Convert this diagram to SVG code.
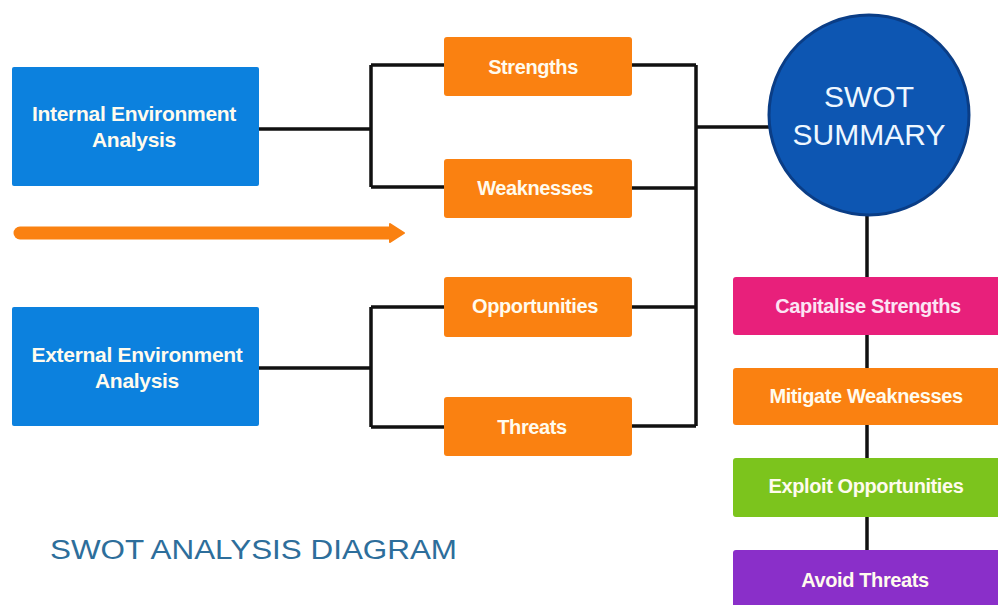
<svg xmlns="http://www.w3.org/2000/svg" width="998" height="605" viewBox="0 0 998 605">
<style>
.bx{stroke:none}
.blue{fill:#0c81de}
.org{fill:#fa8111}
.lbl{font-family:"Liberation Sans",Arial,sans-serif;font-weight:bold;fill:#fffbee;text-anchor:middle}
.big{font-size:21px;letter-spacing:-0.3px}
.mid{font-size:20px;letter-spacing:-0.4px}
.con{fill:none;stroke:#111;stroke-width:3.5}
</style>
<rect width="998" height="605" fill="#ffffff"/>
<g id="connectors">
<path class="con" d="M259 129H371M371 65V187M371 65H444M371 187H444"/>
<path class="con" d="M259 368H371M371 307V427M371 307H444M371 427H444"/>
<path class="con" d="M632 65H696M632 188H696M632 307H696M632 426H696M696 65V426M696 127H772"/>
<path class="con" d="M867 215V555"/>
</g>
<g id="arrow">
<path d="M20 233H392" stroke="#fa8111" stroke-width="13" stroke-linecap="round" fill="none"/>
<path d="M390 224L404 233L390 242Z" fill="#fa8111" stroke="#fa8111" stroke-width="2" stroke-linejoin="round"/>
</g>
<g id="internal">
<rect class="bx blue" x="12" y="67" width="247" height="119" rx="2"/>
<text class="lbl big" x="134" y="121">Internal Environment</text>
<text class="lbl big" x="134" y="147">Analysis</text>
</g>
<g id="external">
<rect class="bx blue" x="12" y="307" width="247" height="119" rx="2"/>
<text class="lbl big" x="137" y="362">External Environment</text>
<text class="lbl big" x="137" y="388">Analysis</text>
</g>
<g id="strengths">
<rect class="bx org" x="444" y="37" width="188" height="59" rx="3"/>
<text class="lbl mid" x="533" y="74">Strengths</text>
</g>
<g id="weaknesses">
<rect class="bx org" x="444" y="159" width="188" height="59" rx="3"/>
<text class="lbl mid" x="535" y="195">Weaknesses</text>
</g>
<g id="opportunities">
<rect class="bx org" x="444" y="277" width="188" height="60" rx="3"/>
<text class="lbl mid" x="535" y="313">Opportunities</text>
</g>
<g id="threats">
<rect class="bx org" x="444" y="397" width="188" height="59" rx="3"/>
<text class="lbl mid" x="532" y="434">Threats</text>
</g>
<g id="summary">
<circle cx="869" cy="115" r="100" fill="#0d56b2" stroke="#0a3d86" stroke-width="3"/>
<text x="869" y="107" font-family="Liberation Sans,Arial,sans-serif" font-size="30" fill="#eef7ff" text-anchor="middle">SWOT</text>
<text x="869" y="145" font-family="Liberation Sans,Arial,sans-serif" font-size="30" fill="#eef7ff" text-anchor="middle">SUMMARY</text>
</g>
<g id="capitalise">
<rect class="bx" x="733" y="277" width="270" height="58" rx="3" fill="#e8207b"/>
<text class="lbl mid" x="868" y="313" style="fill:#fbe4f4">Capitalise Strengths</text>
</g>
<g id="mitigate">
<rect class="bx" x="733" y="368" width="270" height="57" rx="3" fill="#fa8111"/>
<text class="lbl mid" x="866" y="403">Mitigate Weaknesses</text>
</g>
<g id="exploit">
<rect class="bx" x="733" y="458" width="270" height="59" rx="3" fill="#7cc41d"/>
<text class="lbl mid" x="866" y="493">Exploit Opportunities</text>
</g>
<g id="avoid">
<rect class="bx" x="733" y="550" width="270" height="60" rx="3" fill="#8a2fc9"/>
<text class="lbl mid" x="865" y="587">Avoid Threats</text>
</g>
<text id="title" x="50" y="559" font-family="Liberation Sans,Arial,sans-serif" font-size="27" fill="#2d6e9b" textLength="407" lengthAdjust="spacingAndGlyphs">SWOT ANALYSIS DIAGRAM</text>
</svg>
